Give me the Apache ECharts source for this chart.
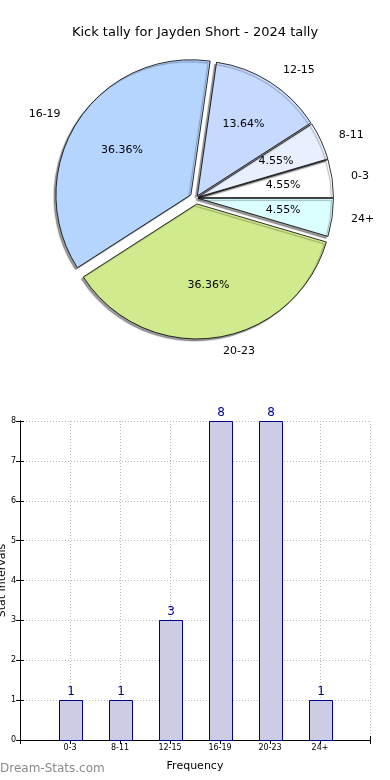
<!DOCTYPE html>
<html><head><meta charset="utf-8">
<script src="https://cdn.jsdelivr.net/npm/echarts@6/dist/echarts.min.js"></script>
<style>html,body{margin:0;padding:0;background:#fff}#c{width:390px;height:780px}</style>
</head><body><div id="c"></div>
<script>
// ---- data ----
const categories = ['0-3', '8-11', '12-15', '16-19', '20-23', '24+'];
const tallies = [1, 1, 3, 8, 8, 1];
const bigExplodeNames = ['16-19', '20-23'];
const yTickMax = 8;
const titleText = 'Kick tally for Jayden Short - 2024 tally';
const xAxisTitle = 'Frequency';
const yAxisTitle = 'Stat Intervals';
const watermark = 'Dream-Stats.com';

// ---- styles ----
const sliceColors = ['#ffffff', '#e8f0ff', '#c6d9ff', '#b5d5ff', '#d0eb8d', '#dbffff'];
const FONT = 'DejaVu Sans';
const CENTER = [196, 198];
const R = 135;
const BAR_WIDTH_UNITS = 0.45;
const total = tallies.reduce((a, b) => a + b, 0);

function pieSeries(offset, showBig) {
  return {
    type: 'pie', center: CENTER, radius: R, startAngle: 0, clockwise: false,
    selectedMode: 'multiple', selectedOffset: offset, avoidLabelOverlap: false,
    silent: true, animation: false, emphasis: { disabled: true },
    label: { show: true, position: 'outside', color: '#000', fontSize: 11, fontFamily: FONT, distanceToLabelLine: 5 },
    labelLine: { show: false, length: 14, length2: 0 },
    itemStyle: { borderColor: '#000', borderWidth: 0.8, shadowColor: 'rgba(0,0,0,0.4)', shadowOffsetX: -2, shadowOffsetY: 2, shadowBlur: 1 },
    data: categories.map((c, i) => {
      const isBig = bigExplodeNames.includes(c);
      if (isBig === showBig) {
        return { name: c, value: tallies[i], selected: true, itemStyle: { color: sliceColors[i] } };
      }
      return { name: c, value: tallies[i], itemStyle: { color: 'rgba(0,0,0,0)', borderWidth: 0, shadowColor: 'rgba(0,0,0,0)' }, label: { show: false } };
    })
  };
}

const pctSeries = {
  type: 'pie', center: CENTER, radius: R * 1.2, startAngle: 0, clockwise: false,
  selectedMode: 'multiple', selectedOffset: 4, avoidLabelOverlap: false,
  silent: true, animation: false, emphasis: { disabled: true },
  label: { show: true, position: 'inside', formatter: p => (p.value / total * 100).toFixed(2) + '%', color: '#000', fontSize: 11, fontFamily: FONT },
  labelLine: { show: false },
  itemStyle: { color: 'rgba(0,0,0,0)', borderWidth: 0 },
  data: categories.map((c, i) => ({ name: c, value: tallies[i], selected: true }))
};

const barSeries = {
  type: 'custom', xAxisIndex: 0, yAxisIndex: 0, silent: true, animation: false,
  data: categories.map((c, i) => [i + 1, tallies[i]]),
  renderItem: function (params, api) {
    const x = api.value(0), v = api.value(1);
    const top = api.coord([x, v]);
    const base = api.coord([x, 0]);
    const w = api.size([BAR_WIDTH_UNITS, 0])[0];
    return {
      type: 'rect',
      shape: { x: Math.round(top[0] - w / 2) + 0.5, y: Math.round(top[1]) + 0.5, width: Math.round(w), height: Math.round(base[1]) - Math.round(top[1]) },
      style: { fill: '#ccccE5', stroke: '#00008b', lineWidth: 1 },
      textContent: { style: { text: String(v), fill: '#00008b', fontSize: 12, fontFamily: FONT } },
      textConfig: { position: 'top', distance: 2 }
    };
  }
};

const chart = echarts.init(document.getElementById('c'), null, { renderer: 'canvas' });
chart.setOption({
  animation: false,
  backgroundColor: '#fff',
  title: { text: titleText, left: 'center', top: 21, textStyle: { fontFamily: FONT, fontSize: 13, fontWeight: 'normal', color: '#000' } },
  graphic: [{ type: 'text', left: 0, top: 763, style: { text: watermark, fontFamily: FONT, fontSize: 12, fontWeight: 'normal', fill: '#8a8a8a' } }],
  grid: { left: 20, right: 20, top: 421, bottom: 40, containLabel: false, outerBoundsMode: 'none' },
  xAxis: [{
    type: 'value', min: 0, max: categories.length + 1, interval: 1,
    name: xAxisTitle, nameLocation: 'middle', nameGap: 21, nameMoveOverlap: false,
    nameTextStyle: { fontFamily: FONT, fontSize: 11, color: '#000' },
    axisLine: { show: true, lineStyle: { color: '#000', width: 1 } },
    axisTick: { show: true, inside: true, length: 4, lineStyle: { color: '#000' } },
    axisLabel: { fontFamily: FONT, fontSize: 8, color: '#000', margin: 4, formatter: v => categories[v - 1] || '' },
    splitLine: { show: true, lineStyle: { color: '#bbb', type: [1, 2], width: 1 } }
  }, {
    type: 'value', position: 'top', min: 0, max: categories.length + 1, interval: 1,
    axisLine: { show: true, lineStyle: { color: '#000', width: 1 } },
    axisTick: { show: true, inside: true, length: 4, lineStyle: { color: '#000' } },
    axisLabel: { show: false }, splitLine: { show: false }
  }],
  yAxis: [{
    type: 'value', min: 0, max: yTickMax, interval: 1,
    name: yAxisTitle, nameLocation: 'middle', nameGap: 12, nameMoveOverlap: false,
    nameTextStyle: { fontFamily: FONT, fontSize: 11, color: '#000' },
    axisLine: { show: true, lineStyle: { color: '#000', width: 1 } },
    axisTick: { show: true, inside: true, length: 4, lineStyle: { color: '#000' } },
    axisLabel: { fontFamily: FONT, fontSize: 8, color: '#000', margin: 4 },
    splitLine: { show: true, lineStyle: { color: '#bbb', type: [1, 2], width: 1 } }
  }, {
    type: 'value', position: 'right', min: 0, max: yTickMax, interval: 1,
    axisLine: { show: true, lineStyle: { color: '#000', width: 1 } },
    axisTick: { show: true, inside: true, length: 4, lineStyle: { color: '#000' } },
    axisLabel: { show: false }, splitLine: { show: false }
  }],
  series: [
    pieSeries(6, true),
    pieSeries(2.5, false),
    pctSeries,
    barSeries
  ]
});
</script></body></html>
